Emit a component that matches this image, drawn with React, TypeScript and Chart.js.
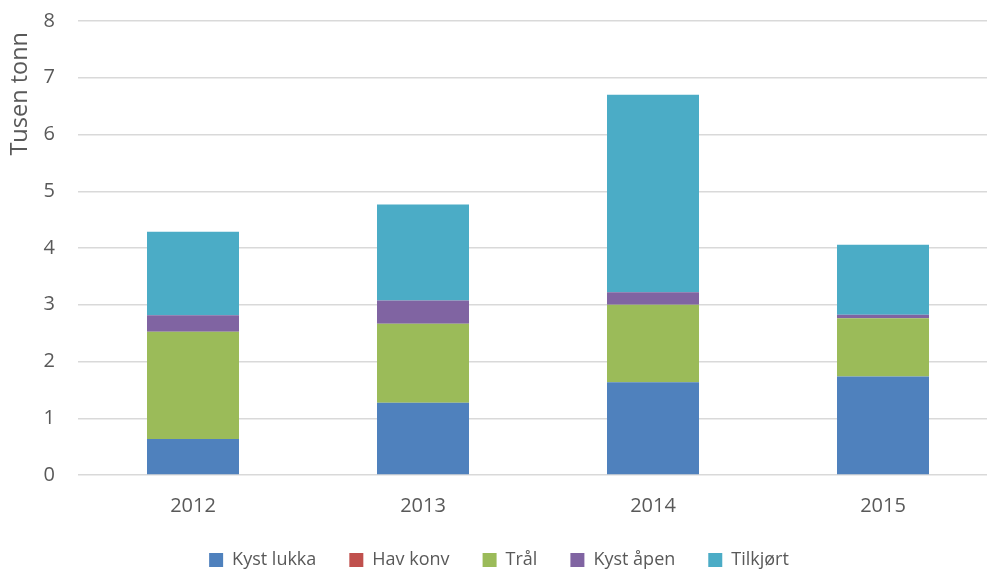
import React, { useEffect, useRef } from "react";
import { Chart, registerables } from "chart.js";

Chart.register(...registerables);

const categories = ["2012", "2013", "2014", "2015"];
const kystLukka = [0.635, 1.275, 1.635, 1.734];
const havKonv = [0, 0, 0, 0];
const tral = [1.89, 1.39, 1.365, 1.03];
const kystApen = [0.29, 0.41, 0.22, 0.06];
const tilkjort = [1.47, 1.69, 3.48, 1.235];
const yTicks = [0, 1, 2, 3, 4, 5, 6, 7, 8];
const yTitle = "Tusen tonn";

const FONT = "'Open Sans', sans-serif";
const TEXT = "#595959";

const yTitlePlugin = {
  id: "yTitlePlugin",
  afterDraw(chart: any) {
    const { ctx, chartArea } = chart;
    ctx.save();
    ctx.translate(20.5, chartArea.top + 11);
    ctx.rotate(-Math.PI / 2);
    ctx.font = `23.5px ${FONT}`;
    ctx.fillStyle = TEXT;
    ctx.textAlign = "right";
    ctx.textBaseline = "middle";
    ctx.fillText(yTitle, 0, 0);
    ctx.restore();
  },
};

export default function App() {
  const ref = useRef<HTMLCanvasElement | null>(null);

  useEffect(() => {
    if (!ref.current) return;
    const chart = new Chart(ref.current, {
      type: "bar",
      data: {
        labels: categories,
        datasets: [
          { label: "Kyst lukka", data: kystLukka, backgroundColor: "#4F81BD" },
          { label: "Hav konv", data: havKonv, backgroundColor: "#C0504D" },
          { label: "Trål", data: tral, backgroundColor: "#9BBB59" },
          { label: "Kyst åpen", data: kystApen, backgroundColor: "#8064A2" },
          { label: "Tilkjørt", data: tilkjort, backgroundColor: "#4BACC6" },
        ].map((d) => ({
          ...d,
          borderWidth: 0,
          categoryPercentage: 1,
          barPercentage: 0.4,
        })),
      },
      options: {
        responsive: false,
        animation: false,
        devicePixelRatio: 1,
        layout: { padding: { top: 21, right: 2, left: 0, bottom: 0 } },
        plugins: {
          tooltip: { enabled: false },
          legend: {
            position: "bottom",
            labels: {
              boxWidth: 14,
              boxHeight: 14,
              padding: 33,
              color: TEXT,
              font: { family: FONT, size: 18 },
            },
          },
        },
        scales: {
          x: {
            stacked: true,
            grid: { display: false, drawTicks: false },
            border: { display: false },
            ticks: { color: TEXT, font: { family: FONT, size: 20 }, padding: 19 },
            afterFit: (s: any) => {
              s.height = 43;
            },
          },
          y: {
            stacked: true,
            min: 0,
            max: 8,
            afterBuildTicks: (s: any) => {
              s.ticks = yTicks.map((v) => ({ value: v }));
            },
            grid: {
              color: "#D9D9D9",
              lineWidth: 1.5,
              drawTicks: true,
              tickLength: 23,
              tickColor: "rgba(0,0,0,0)",
            },
            border: { display: false },
            ticks: { color: TEXT, font: { family: FONT, size: 20 }, padding: 0 },
            afterFit: (s: any) => {
              s.width = 78;
            },
          },
        },
      },
      plugins: [yTitlePlugin],
    });
    return () => chart.destroy();
  }, []);

  return (
    <div
      style={{
        position: "fixed",
        left: 0,
        top: 0,
        width: 987,
        height: 569,
        overflow: "hidden",
        background: "#fff",
      }}
    >
      <canvas ref={ref} width={1000} height={579} style={{ display: "block" }} />
    </div>
  );
}
